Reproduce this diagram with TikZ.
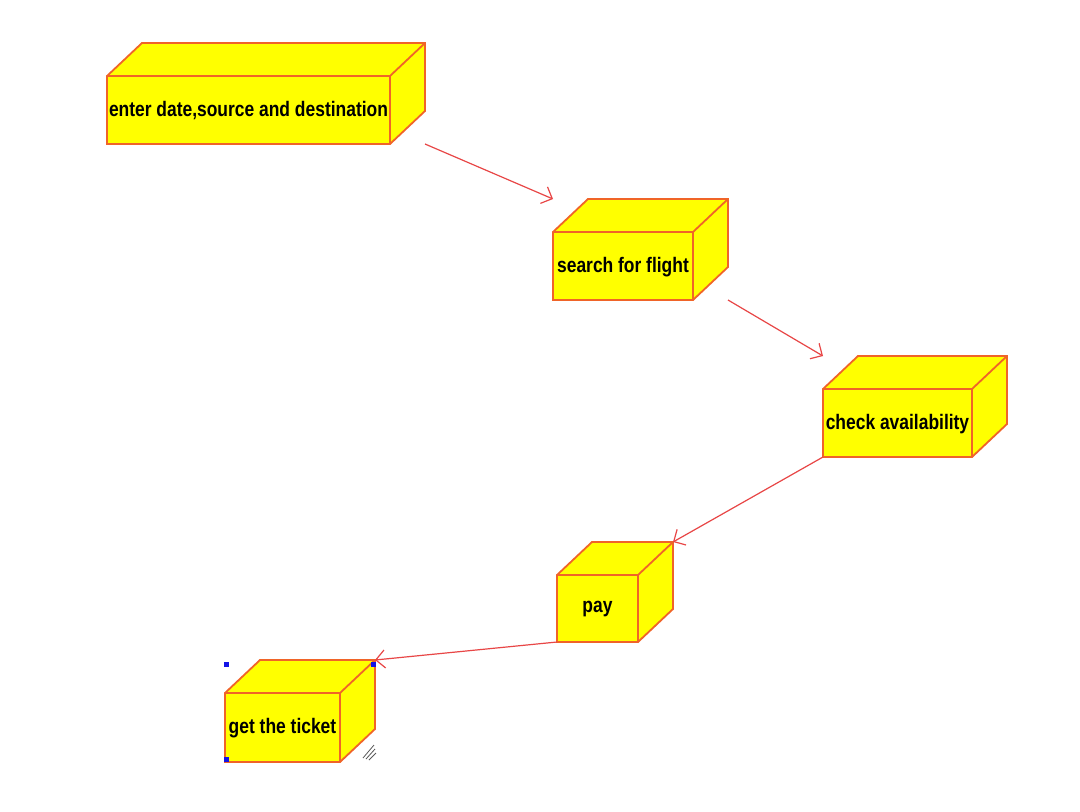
\documentclass[tikz,border=0pt]{standalone}
\usepackage{fontspec}
\setmainfont{Liberation Sans}
\usetikzlibrary{arrows.meta,calc}
\definecolor{boxline}{RGB}{240,100,40}
\definecolor{arrowred}{RGB}{232,70,70}
\definecolor{boxfill}{RGB}{255,255,0}
\definecolor{handle}{RGB}{20,20,230}
\tikzset{
  bbox/.style={inner sep=0pt, outer sep=0pt, anchor=north west},
  face/.style={fill=boxfill, draw=boxline, line width=1.8pt, line join=miter},
  boxtext/.style={font=\fontsize{21pt}{21pt}\selectfont\bfseries, inner sep=0pt},
  flow/.style={draw=arrowred, line width=1.2pt, -{Straight Barb[length=9pt,width=18pt]}},
  hatch/.style={draw=gray!70!black, line width=0.8pt},
}
\newcommand\cubeof[2]{%
  \draw[face] (#1.south west) -- ($(#1.north west)+(0pt,-33pt)$) -- ($(#1.north west)+(35pt,0pt)$)
    -- (#1.north east) -- ($(#1.south east)+(0pt,33pt)$) -- ($(#1.south east)+(-35pt,0pt)$) -- cycle;
  \draw[face, fill=none] ($(#1.north west)+(0pt,-33pt)$) -- ($(#1.north east)+(-35pt,-33pt)$) -- (#1.north east)
    ($(#1.north east)+(-35pt,-33pt)$) -- ($(#1.south east)+(-35pt,0pt)$);
  \node[boxtext] (#1t) at ($($(#1.south west)!0.5!(#1.north east)$)+(-17.5pt,-17.5pt)$) {\scalebox{0.83}[1]{#2}};
}
\begin{document}
\begin{tikzpicture}[x=1pt,y=-1pt]
\useasboundingbox[fill=white] (0,0) rectangle (1080,812);
\node[bbox, minimum width=318pt, minimum height=101pt] (b1) at (107,43) {};
\node[bbox, minimum width=175pt, minimum height=101pt] (b2) at (553,199) {};
\node[bbox, minimum width=184pt, minimum height=101pt] (b3) at (823,356) {};
\node[bbox, minimum width=116pt, minimum height=100pt] (b4) at (557,542) {};
\node[bbox, minimum width=150pt, minimum height=102pt] (b5) at (225,660) {};
\cubeof{b1}{enter date,source and destination}
\cubeof{b2}{search for flight}
\cubeof{b3}{check availability}
\cubeof{b4}{pay}
\cubeof{b5}{get the ticket}
\draw[flow] (b1.south east) -- (b2.north west);
\draw[flow] (b2.south east) -- (b3.north west);
\draw[flow] (b3.south west) -- (b4.north east);
\draw[flow] (b4.south west) -- (b5.north east);
% selection handles
\fill[handle] (223.5,661.5) rectangle (228.5,666.5);
\fill[handle] (370.5,661.5) rectangle (375.5,666.5);
\fill[handle] (223.5,756.5) rectangle (228.5,761.5);
\draw[hatch] (363,758) -- (374,745);
\draw[hatch] (366,759) -- (375,749);
\draw[hatch] (369,760) -- (376,753);
\end{tikzpicture}
\end{document}
